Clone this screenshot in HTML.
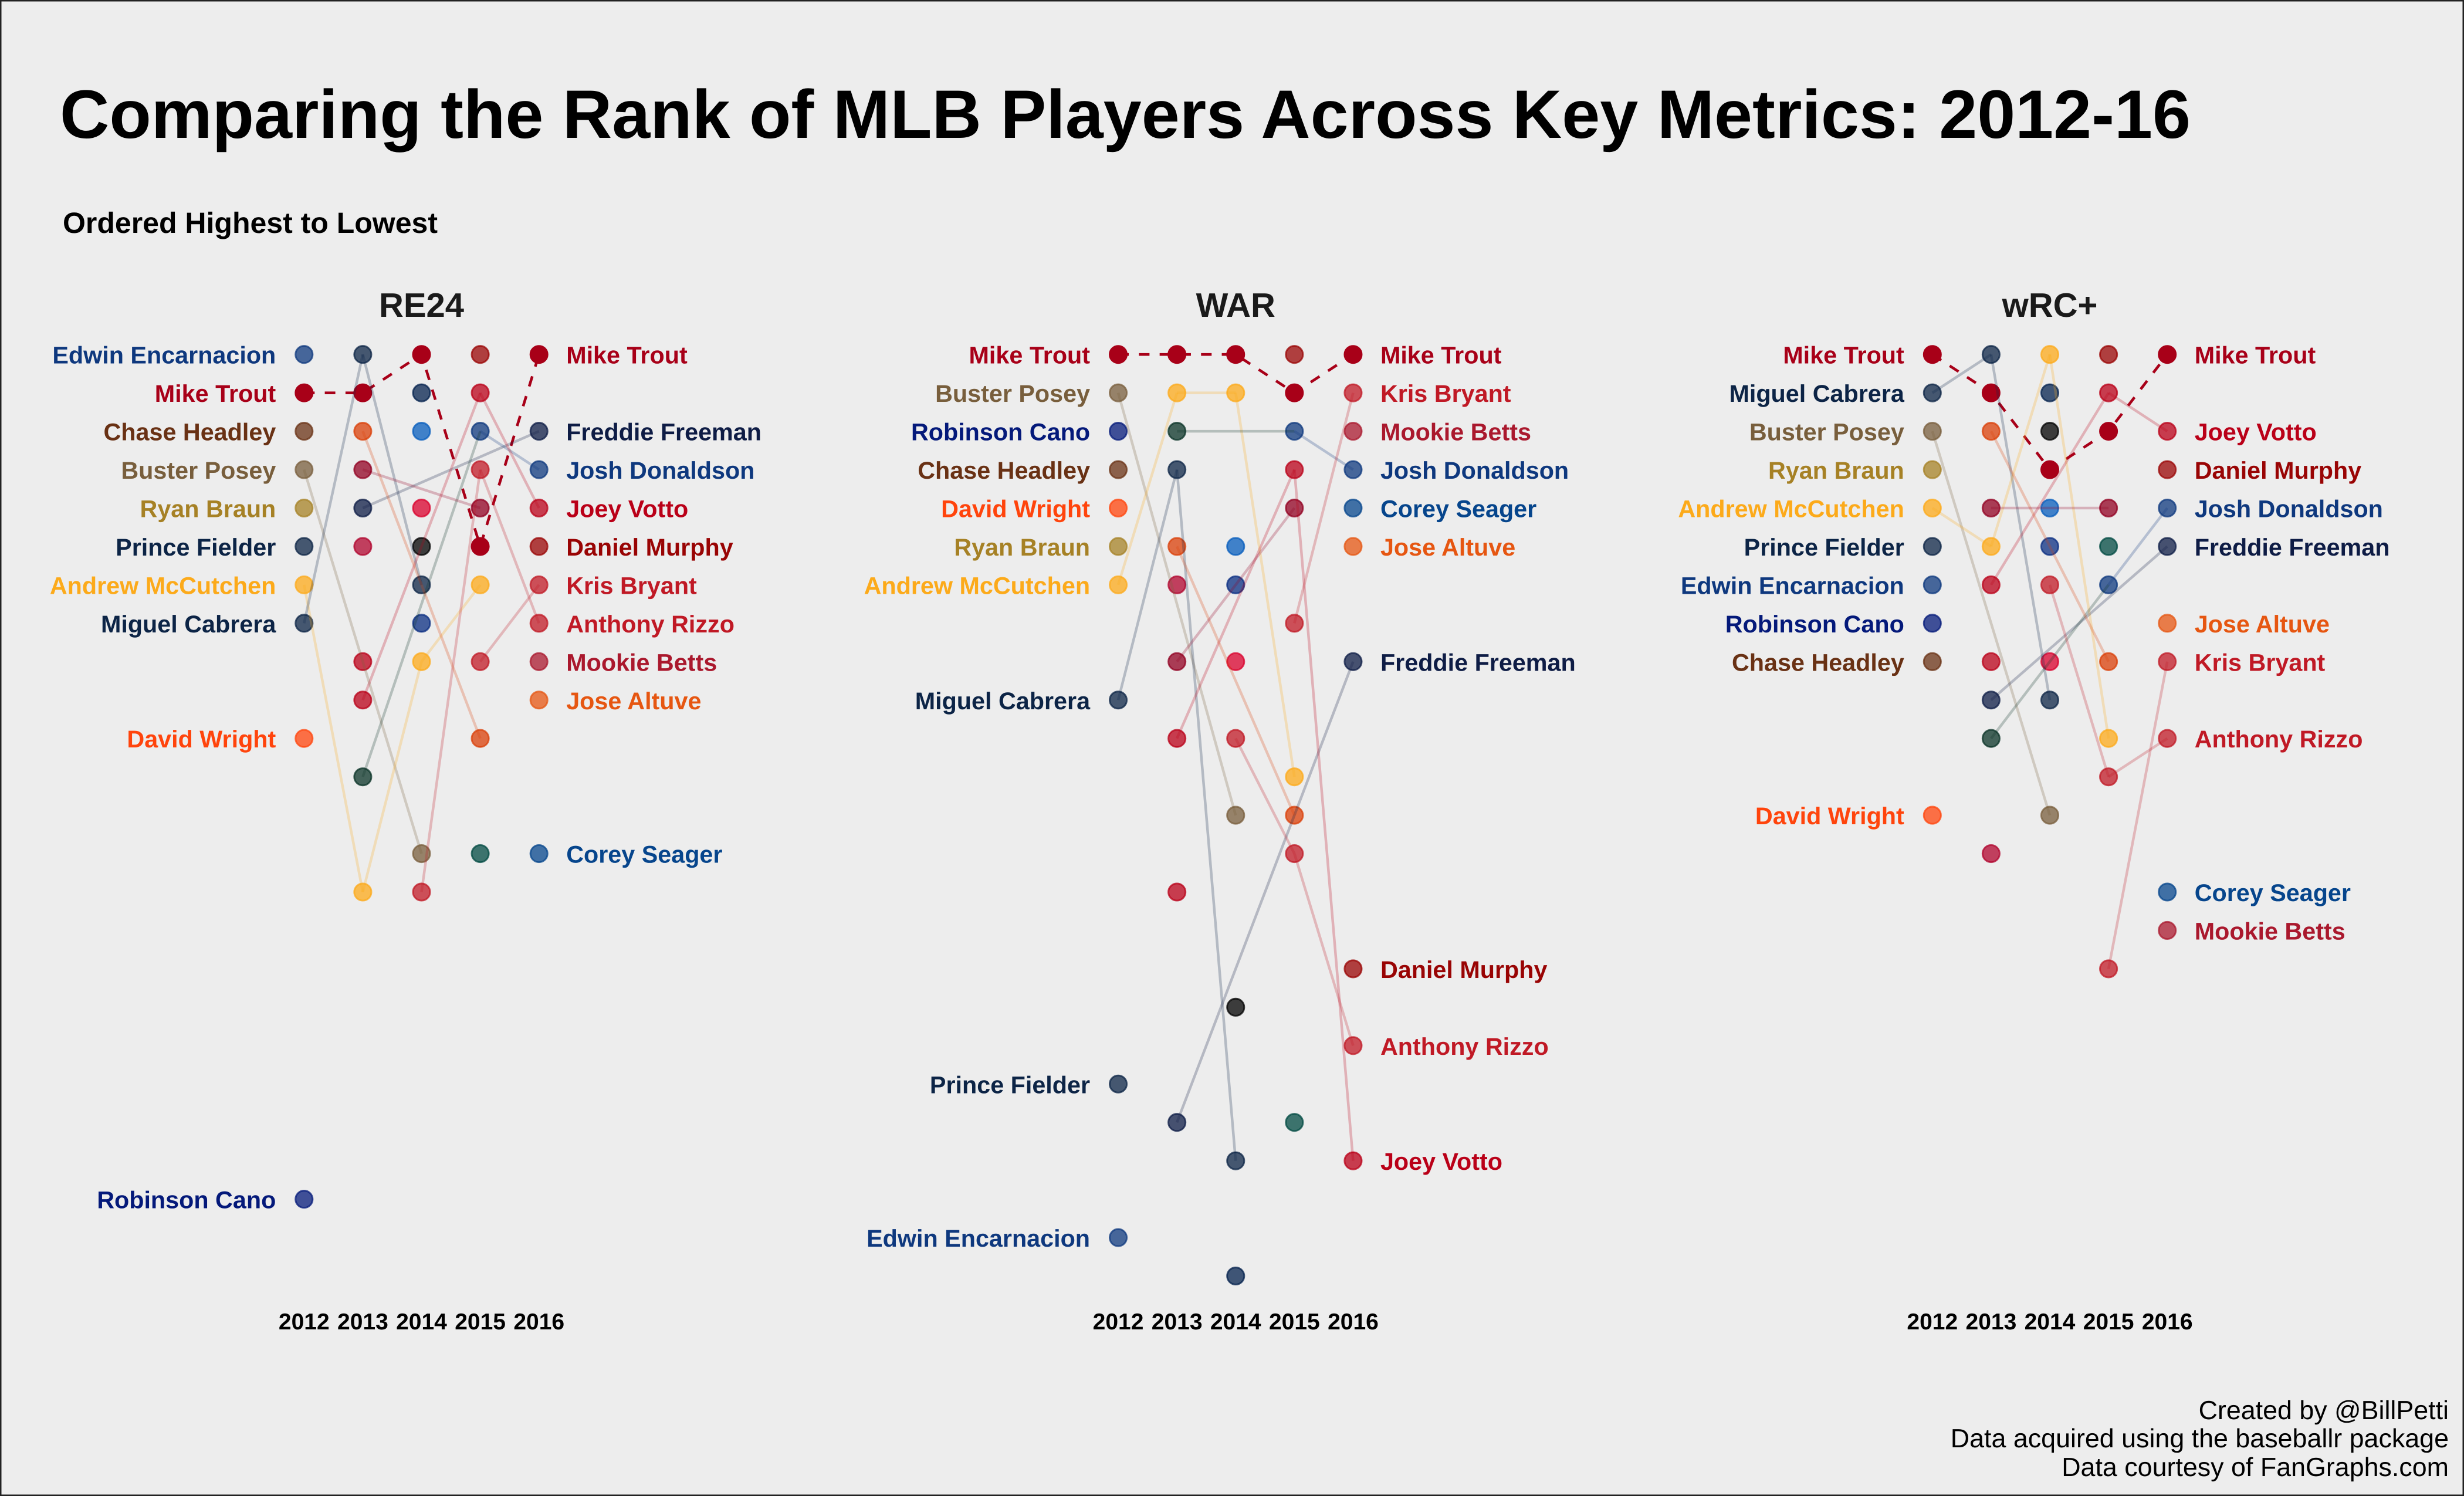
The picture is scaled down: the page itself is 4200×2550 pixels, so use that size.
<!DOCTYPE html>
<html lang="en">
<head>
<meta charset="utf-8">
<title>Comparing the Rank of MLB Players Across Key Metrics: 2012-16</title>
<style>
html,body{margin:0;padding:0;background:#ededed;}
svg{display:block;font-family:"Liberation Sans",Arial,sans-serif;text-rendering:geometricPrecision;}
</style>
</head>
<body>
<svg id="chart" xmlns="http://www.w3.org/2000/svg" width="4200" height="2550" viewBox="0 0 4200 2550">
  <rect x="0" y="0" width="4200" height="2550" fill="#ededed" stroke="#222" stroke-width="5"/>
  <text x="102" y="235" font-size="116.85" font-weight="700" fill="#000">Comparing the Rank of MLB Players Across Key Metrics: 2012-16</text>
  <text x="107" y="397" font-size="50" font-weight="700" fill="#000">Ordered Highest to Lowest</text>
  <g font-size="44.8" fill="#000" text-anchor="end">
    <text x="4174" y="2419">Created by @BillPetti</text>
    <text x="4174" y="2467">Data acquired using the baseballr package</text>
    <text x="4174" y="2516">Data courtesy of FanGraphs.com</text>
  </g>
  <g id="panels"></g>
</svg>
<script>
const years = [2012, 2013, 2014, 2015, 2016];
const metrics = ['RE24', 'WAR', 'wRC+'];
const _ = null;

/* ---------- RE24 ---------- */
const re24Names = ['Edwin Encarnacion','Mike Trout','Chase Headley','Buster Posey','Ryan Braun','Prince Fielder','Andrew McCutchen','Miguel Cabrera','David Wright','Robinson Cano','Freddie Freeman','Josh Donaldson','Joey Votto','Daniel Murphy','Kris Bryant','Anthony Rizzo','Mookie Betts','Jose Altuve','Corey Seager',_,_,_,_,_,_,_,_,_,_,_];
const re24Ranks = [
  [1,_,_,_,_],[2,2,1,6,1],[3,_,_,_,_],[4,_,14,_,_],[5,_,_,_,_],[6,_,_,_,_],[7,15,9,7,_],[8,1,7,_,_],[11,_,_,_,_],[23,_,_,_,_],
  [_,5,_,_,3],[_,12,_,3,4],[_,10,_,2,5],[_,_,_,_,6],[_,_,_,9,7],[_,_,15,4,8],[_,_,_,_,9],[_,_,_,_,10],[_,_,_,_,14],
  [_,3,_,11,_],[_,4,_,5,_],[_,6,_,_,_],[_,9,_,_,_],[_,_,2,_,_],[_,_,3,_,_],[_,_,5,_,_],[_,_,6,_,_],[_,_,8,_,_],[_,_,_,1,_],[_,_,_,14,_]
];
const re24Teams = [
  'TOR','LAA','SDP','SFG','MIL','DET','PIT','DET','NYM','NYY',
  'ATL',['OAK','OAK','OAK','TOR','TOR'],'CIN','WSH','CHC','CHC','BOS','HOU','LAD',
  'ORG','ARI','CRM','CIN','NAV','BLU','BRT','BLK','NVB','WSH','TEA'
];

/* ---------- WAR ---------- */
const warNames = ['Mike Trout','Buster Posey','Robinson Cano','Chase Headley','David Wright','Ryan Braun','Andrew McCutchen','Miguel Cabrera','Prince Fielder','Edwin Encarnacion','Freddie Freeman','Josh Donaldson','Joey Votto','Daniel Murphy','Kris Bryant','Anthony Rizzo','Mookie Betts','Jose Altuve','Corey Seager',_,_,_,_,_,_,_,_,_,_,_];
const warRanks = [
  [1,1,1,2,1],[2,_,13,_,_],[3,_,_,_,_],[4,_,_,_,_],[5,_,_,_,_],[6,_,_,_,_],[7,2,2,12,_],[10,4,22,_,_],[20,_,_,_,_],[24,_,_,_,_],
  [_,21,_,_,9],[_,3,_,3,4],[_,11,_,4,22],[_,_,_,_,17],[_,_,_,8,2],[_,_,11,14,19],[_,_,_,_,3],[_,_,_,_,6],[_,_,_,_,5],
  [_,6,_,13,_],[_,9,_,5,_],[_,7,_,_,_],[_,15,_,_,_],[_,_,6,_,_],[_,_,7,_,_],[_,_,9,_,_],[_,_,18,_,_],[_,_,25,_,_],[_,_,_,1,_],[_,_,_,21,_]
];
const warTeams = [
  'LAA','SFG','NYY','SDP','NYM','MIL','PIT','DET','DET','TOR',
  'ATL',['OAK','OAK','OAK','TOR','TOR'],'CIN','WSH','CHC','CHC','BOS','HOU','LAD',
  'ORG','ARI','CRM','CIN','BLU','NVB','BRT','BLK','NAV','WSH','TEA'
];

/* ---------- wRC+ ---------- */
const wrcNames = ['Mike Trout','Miguel Cabrera','Buster Posey','Ryan Braun','Andrew McCutchen','Prince Fielder','Edwin Encarnacion','Robinson Cano','Chase Headley','David Wright','Freddie Freeman','Josh Donaldson','Joey Votto','Daniel Murphy','Kris Bryant','Anthony Rizzo','Mookie Betts','Jose Altuve','Corey Seager',_,_,_,_,_,_,_,_,_,_,_];
const wrcRanks = [
  [1,2,4,3,1],[2,1,10,_,_],[3,_,13,_,_],[4,_,_,_,_],[5,6,1,11,_],[6,_,_,_,_],[7,_,_,_,_],[8,_,_,_,_],[9,_,_,_,_],[13,_,_,_,_],
  [_,10,_,_,6],[_,11,_,7,5],[_,7,_,2,3],[_,_,_,_,4],[_,_,_,17,9],[_,_,7,12,11],[_,_,_,_,16],[_,_,_,_,8],[_,_,_,_,15],
  [_,3,_,9,_],[_,5,_,5,_],[_,9,_,_,_],[_,14,_,_,_],[_,_,2,_,_],[_,_,3,_,_],[_,_,5,_,_],[_,_,6,_,_],[_,_,9,_,_],[_,_,_,1,_],[_,_,_,6,_]
];
const wrcTeams = [
  'LAA','DET','SFG','MIL','PIT','DET','TOR','NYY','SDP','NYM',
  'ATL',['OAK','OAK','OAK','TOR','TOR'],'CIN','WSH','CHC','CHC','BOS','HOU','LAD',
  'ORG','ARI','CIN','CRM','NAV','BLK','BLU','NVB','BRT','WSH','TEA'
];

const panelNames = [re24Names, warNames, wrcNames];
const panelRanks = [re24Ranks, warRanks, wrcRanks];
const panelTeams = [re24Teams, warTeams, wrcTeams];

/* team -> colour lookup */
const teamColor = {
  LAA:'#a80018', TOR:'#0e387e', NYY:'#04197a', SDP:'#693114', SFG:'#785e3c', MIL:'#a68125',
  DET:'#0c2446', PIT:'#fcaa1a', NYM:'#ff440c', ATL:'#0e1c45', OAK:'#0a3327', CIN:'#ba0018',
  WSH:'#990404', CHC:'#c01925', BOS:'#aa182d', HOU:'#e65611', LAD:'#06458c', ORG:'#da3f08',
  ARI:'#920022', CRM:'#b0042d', BRT:'#d9002c', BLU:'#065cbc', BLK:'#000000', NVB:'#0a2e82',
  NAV:'#04214d', TEA:'#004941'
};

/* axis functions */
function xScale(panel, yearIndex) { return 518.3 + 1387.75 * panel + 100.1 * yearIndex; }
function yScale(rank) { return 604.2 + 65.45 * (rank - 1); }

const NS = 'http://www.w3.org/2000/svg';
function make(tag, attrs, parent) {
  const el = document.createElementNS(NS, tag);
  for (const k in attrs) el.setAttribute(k, attrs[k]);
  parent.appendChild(el);
  return el;
}
function slug(s) { return s.toLowerCase().replace(/[^a-z0-9]+/g, '-'); }
function teamAt(teams, i, y) { const t = teams[i]; return typeof t === 'string' ? t : t[y]; }

const root = document.getElementById('panels');

metrics.forEach(function (metric, p) {
  const names = panelNames[p], ranks = panelRanks[p], teams = panelTeams[p];
  const g = make('g', {}, root);
  
  

  const title = make('text', {x: xScale(p, 2), y: 540, 'font-size': 58, 'font-weight': 700, fill: '#1a1a1a', 'text-anchor': 'middle'}, g);
  title.textContent = metric;
  
  

  years.forEach(function (yr, y) {
    const tick = make('text', {x: xScale(p, y), y: 2266, 'font-size': 39, 'font-weight': 700, fill: '#000', 'text-anchor': 'middle'}, g);
    tick.textContent = yr;
    
    
  });

  /* points */
  ranks.forEach(function (row, i) {
    row.forEach(function (r, y) {
      if (r === null) return;
      const team = teamAt(teams, i, y);
      const col = teamColor[team];
      const solid = team === 'LAA';
      const c = make('circle', {
        cx: xScale(p, y), cy: yScale(r), r: solid ? 15.5 : 14.6,
        fill: col, 'fill-opacity': solid ? 1 : 0.75,
        stroke: col, 'stroke-opacity': solid ? 1 : 0.75, 'stroke-width': solid ? 1 : 2.9
      }, g);
      
      
    });
  });

  /* highlighted dashed line */
  ranks.forEach(function (row, i) {
    if (names[i] !== 'Mike Trout') return;
    const pts = [];
    row.forEach(function (r, y) { if (r !== null) pts.push(xScale(p, y) + ',' + yScale(r)); });
    const dash = make('polyline', {points: pts.join(' '), fill: 'none', stroke: teamColor.LAA, 'stroke-width': 4.6, 'stroke-dasharray': '18 17.3'}, g);
    
    
  });

  /* lines, drawn over the points; segment colour follows its starting point */
  ranks.forEach(function (row, i) {
    const present = [];
    row.forEach(function (r, y) { if (r !== null) present.push(y); });
    if (present.length < 2) return;
    if (names[i] === 'Mike Trout') return;
    for (let k = 0; k < present.length - 1; k++) {
      const a = present[k], b = present[k + 1];
      const seg = make('line', {
        x1: xScale(p, a), y1: yScale(row[a]), x2: xScale(p, b), y2: yScale(row[b]),
        stroke: teamColor[teamAt(teams, i, a)], 'stroke-opacity': 0.25, 'stroke-width': 4.5
      }, g);
      
      
    }
  });

  /* player labels on either side */
  ranks.forEach(function (row, i) {
    if (!names[i]) return;
    if (row[0] !== null) {
      const left = make('text', {x: xScale(p, 0) - 48, y: yScale(row[0]) + 15.5, 'font-size': 41.3, 'font-weight': 700, fill: teamColor[teamAt(teams, i, 0)], 'text-anchor': 'end'}, g);
      left.textContent = names[i];
      
      
    }
    if (row[4] !== null) {
      const right = make('text', {x: xScale(p, 4) + 46.5, y: yScale(row[4]) + 15.5, 'font-size': 41.3, 'font-weight': 700, fill: teamColor[teamAt(teams, i, 4)], 'text-anchor': 'start'}, g);
      right.textContent = names[i];
      
      
    }
  });
});
</script>
</body>
</html>
